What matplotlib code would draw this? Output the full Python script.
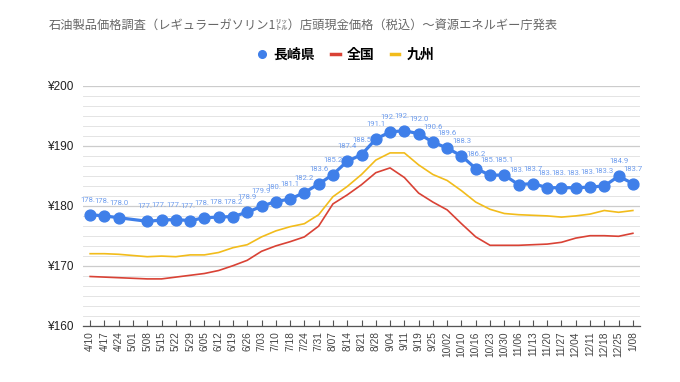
import numpy as np
import matplotlib
matplotlib.use("Agg")
import matplotlib.pyplot as plt
from matplotlib.patches import Rectangle
from matplotlib.lines import Line2D

plt.rcParams['font.family'] = ['Liberation Sans', 'Noto Sans CJK JP', 'DejaVu Sans']

dates = ['4/10', '4/17', '4/24', '5/01', '5/08', '5/15', '5/22', '5/29', '6/05', '6/12',
         '6/19', '6/26', '7/03', '7/10', '7/18', '7/24', '7/31', '8/07', '8/14', '8/21',
         '8/28', '9/04', '9/11', '9/19', '9/25', '10/02', '10/10', '10/16', '10/23', '10/30',
         '11/06', '11/13', '11/20', '11/27', '12/04', '12/11', '12/18', '12/25', '1/08']

# 長崎県 (5/01 no data)
nagasaki = [178.5, 178.3, 178.0, None, 177.4, 177.6, 177.7, 177.5, 178.0, 178.1,
            178.2, 178.9, 179.9, 180.7, 181.1, 182.2, 183.6, 185.2, 187.4, 188.5,
            191.1, 192.3, 192.5, 192.0, 190.6, 189.6, 188.3, 186.2, 185.1, 185.1,
            183.5, 183.7, 183.0, 183.0, 183.0, 183.1, 183.3, 184.9, 183.7]

zenkoku = [168.2, 168.1, 168.0, 167.9, 167.8, 167.8, 168.1, 168.4, 168.7, 169.2,
           170.0, 170.9, 172.4, 173.3, 174.0, 174.8, 176.6, 180.3, 181.8, 183.5,
           185.5, 186.3, 184.7, 182.1, 180.6, 179.3, 177.0, 174.8, 173.4, 173.4,
           173.4, 173.5, 173.6, 173.9, 174.6, 175.0, 175.0, 174.9, 175.4]

kyushu = [172.0, 172.0, 171.9, 171.7, 171.5, 171.6, 171.5, 171.8, 171.8, 172.2,
          173.0, 173.5, 174.8, 175.8, 176.5, 177.0, 178.5, 181.5, 183.2, 185.2,
          187.6, 188.8, 188.8, 186.8, 185.2, 184.2, 182.5, 180.6, 179.4, 178.7,
          178.5, 178.4, 178.3, 178.1, 178.3, 178.6, 179.2, 178.9, 179.2]

yticks = [160, 170, 180, 190, 200]

BLUE = '#3f7fe9'
RED = '#d94235'
YELLOW = '#f2bc1b'

fig = plt.figure(figsize=(6.8, 3.82), dpi=100)
ax = fig.add_axes([83 / 680, 1 - 325.7 / 382, (640 - 83) / 680, 240 / 382])

x = np.arange(len(dates))
bx = [i for i, v in enumerate(nagasaki) if v is not None]
by = [v for v in nagasaki if v is not None]

# gridlines
for v in np.arange(160, 200.01, 10 / 6):
    major = abs(v - round(v / 10) * 10) < 1e-6
    ax.axhline(v, color='#cccccc' if major else '#e4e4e4', lw=0.9 if major else 0.7, zorder=0)

ax.plot(x, kyushu, color=YELLOW, lw=1.2, zorder=2)
ax.plot(x, zenkoku, color=RED, lw=1.2, zorder=2)
ax.plot(bx, by, color=BLUE, lw=2.3, marker='o', ms=7.8, zorder=3)

# data labels (clipped where the next one runs into them)
for k, (i, v) in enumerate(zip(bx, by)):
    t = ax.annotate(f'{v:.1f}', (i, v), xytext=(0, 8.5), textcoords='offset points',
                    ha='center', va='bottom', fontsize=5.6, color='#6f9ded',
                    family=['Roboto', 'DejaVu Sans'], zorder=4, annotation_clip=False)
    if k + 1 < len(bx) and bx[k + 1] == i + 1 and abs(by[k + 1] - v) < 0.65:
        clip = Rectangle((i - 1, 150), 1.33, 60, transform=ax.transData)
        t.set_clip_path(clip)

ax.set_xlim(-0.5, len(dates) - 0.5)
ax.set_ylim(160, 200)
ax.set_yticks(yticks)
ax.set_yticklabels([f'¥{v}' for v in yticks])
ax.set_xticks(x)
ax.set_xticklabels(dates, rotation=90)
ax.tick_params(axis='y', length=0, pad=7, labelsize=8.5, labelcolor='#222222')
ax.tick_params(axis='x', direction='in', length=4, width=0.8, color='#555555',
               pad=4, labelsize=7.3, labelcolor='#444444')
for s in ['top', 'right', 'left']:
    ax.spines[s].set_visible(False)
ax.spines['bottom'].set_color('#555555')
ax.spines['bottom'].set_linewidth(0.9)
ax.spines['bottom'].set_zorder(5)

fig.text(49 / 680, 1 - 25 / 382, '石油製品価格調査（レギュラーガソリン1㍑）店頭現金価格（税込）～資源エネルギー庁発表',
         ha='left', va='center', fontsize=8.8, color='#666666',
         family=['Noto Sans CJK JP', 'DejaVu Sans'])

handles = [Line2D([], [], color=BLUE, marker='o', ls='none', ms=5.5),
           Line2D([], [], color=RED, lw=2.5),
           Line2D([], [], color=YELLOW, lw=2.5)]
fig.legend(handles, ['長崎県', '全国', '九州'], loc='center', bbox_to_anchor=(346 / 680, 1 - 55 / 382),
           ncol=3, frameon=False, handlelength=0.6, handletextpad=0.5, columnspacing=1.2,
           prop={'family': ['Noto Sans CJK JP'], 'weight': 'bold', 'size': 10})

fig.savefig('out.png', dpi=100)
